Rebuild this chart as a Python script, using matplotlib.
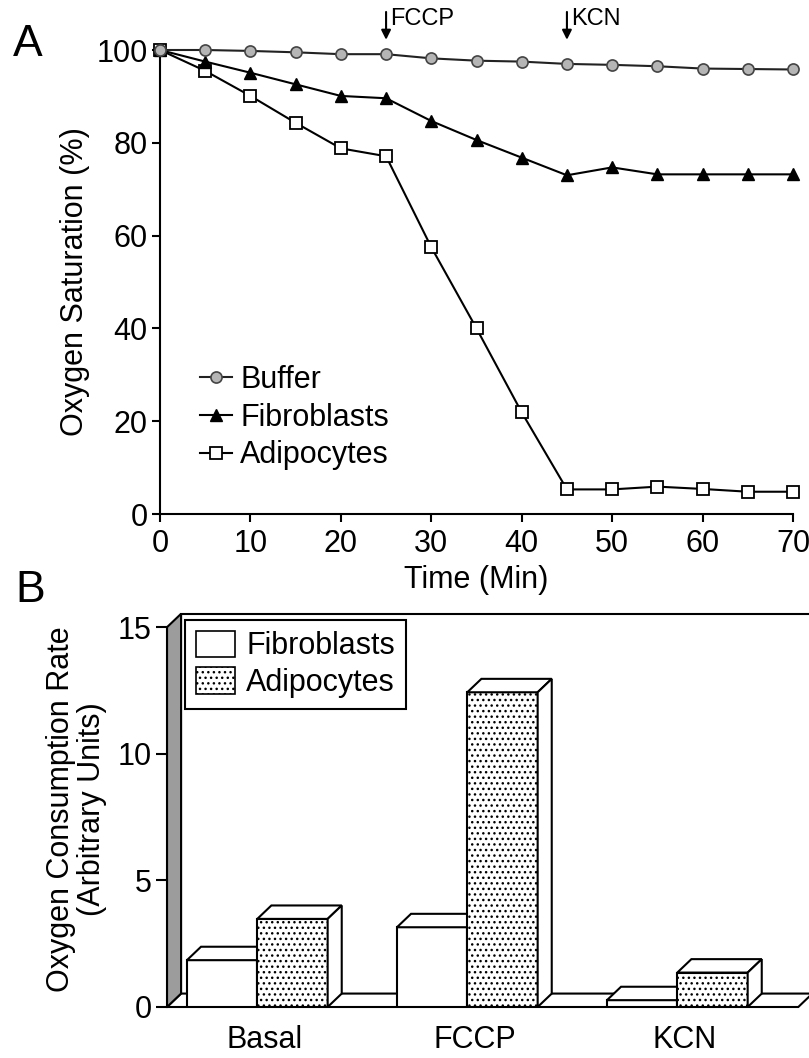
import matplotlib
matplotlib.use('Agg')
from matplotlib import pyplot as plt
from matplotlib.patches import Polygon, Patch

# ---- panel A data ----
time = [0, 5, 10, 15, 20, 25, 30, 35, 40, 45, 50, 55, 60, 65, 70]
buffer = [100, 100, 99.8, 99.5, 99.1, 99.1, 98.2, 97.7, 97.5, 97.0, 96.8, 96.5, 96.0, 95.9, 95.8]
fibroblasts = [100, 97.5, 95.1, 92.6, 90.1, 89.6, 84.7, 80.6, 76.8, 73.0, 74.7, 73.2, 73.2, 73.2, 73.2]
adipocytes = [100, 95.5, 90.1, 84.3, 78.8, 77.1, 57.5, 40.0, 21.9, 5.3, 5.3, 5.9, 5.4, 4.8, 4.8]
additions = [25, 45]
addition_labels = ['FCCP', 'KCN']

# ---- panel B data ----
conditions = ['Basal', 'FCCP', 'KCN']
rate_fibro = [1.85, 3.15, 0.27]
rate_adipo = [3.48, 12.43, 1.36]

plt.rcParams['font.family'] = ['Liberation Sans', 'DejaVu Sans']
plt.rcParams['font.size'] = 22
plt.rcParams['hatch.linewidth'] = 1.0

W, H = 809, 1058
fig = plt.figure(figsize=(W / 100, H / 100), dpi=100)


def box(l, t, r, b):
    # pixel box -> figure fraction
    return [l / W, 1 - b / H, (r - l) / W, (b - t) / H]


# ================= Panel A =================
ax = fig.add_axes(box(160, 50, 793, 514))
la, = ax.plot(time, adipocytes, '-s', color='black', lw=1.5, ms=8,
              mfc='white', mec='black', mew=1.3, clip_on=False, zorder=3)
lf, = ax.plot(time, fibroblasts, '-^', color='black', lw=1.5, ms=8,
              mfc='black', mec='black', clip_on=False, zorder=4)
lb, = ax.plot(time, buffer, '-o', color='#222222', lw=1.5, ms=8,
              mfc='#b5b5b5', mec='#444444', mew=1.2, clip_on=False, zorder=5)

ax.set_xlim(0, 70)
ax.set_ylim(0, 100)
ax.set_xticks(range(0, 71, 10))
ax.set_yticks(range(0, 101, 20))
for s in ['top', 'right']:
    ax.spines[s].set_visible(False)
for s in ['left', 'bottom']:
    ax.spines[s].set_linewidth(1.5)
ax.tick_params(direction='out', length=6, width=1.5, labelsize=22, pad=3)
ax.tick_params(axis='x', pad=5)
ax.set_xlabel('Time (Min)', fontsize=22, labelpad=4)
ax.set_ylabel('Oxygen Saturation (%)', fontsize=22)
ax.yaxis.set_label_coords(-0.111, 0.5)

leg = ax.legend([lb, lf, la], ['Buffer', 'Fibroblasts', 'Adipocytes'],
                loc='upper left', bbox_to_anchor=(200 / W, 1 - 365 / H),
                bbox_transform=fig.transFigure, frameon=False, fontsize=22,
                handlelength=1.05, handletextpad=0.26, labelspacing=0.25,
                borderpad=0, borderaxespad=0, numpoints=1)

for t, lab in zip(additions, addition_labels):
    ax.annotate('', xy=(t, 102.2), xytext=(t, 108.2),
                arrowprops=dict(arrowstyle='-|>', color='black', lw=1.5,
                                mutation_scale=14, shrinkA=0, shrinkB=0),
                annotation_clip=False)
    ax.text(t + 0.5, 106.6, lab, fontsize=17, ha='left', va='center', clip_on=False)

fig.text(28 / W, 1 - 44 / H, 'A', fontsize=32, ha='center', va='center')

# ================= Panel B =================
bx = fig.add_axes(box(167, 612, 809, 1007))
w = 0.335      # bar width (category units)
dx = 0.067     # depth offset, x
dy = 0.53      # depth offset, y (value units)
x0 = -0.43     # front-left corner of the side wall
xr = 2.576     # front-right corner of the floor
bx.set_xlim(x0, 2.627)
bx.set_ylim(0, 15.6)

# side wall, back wall, floor
bx.add_patch(Polygon([(x0, 0), (x0, 15), (x0 + dx, 15 + dy), (x0 + dx, dy)],
                     closed=True, fc='#9c9c9c', ec='black', lw=1.5, zorder=1))
bx.add_patch(Polygon([(x0 + dx, dy), (x0 + dx, 15 + dy), (xr + dx, 15 + dy), (xr + dx, dy)],
                     closed=True, fc='white', ec='black', lw=1.5, zorder=0.8, clip_on=False))
bx.add_patch(Polygon([(x0, 0), (xr, 0), (xr + dx, dy), (x0 + dx, dy)],
                     closed=True, fc='white', ec='black', lw=1.5, zorder=0.9, clip_on=False))

z = 2
for i in range(len(conditions)):
    for j, (vals, hatch) in enumerate([(rate_fibro, None), (rate_adipo, '...')]):
        left = i - w + j * w
        v = vals[i]
        bx.bar(left, v, width=w, align='edge', color='white', edgecolor='black',
               lw=1.5, hatch=hatch, zorder=z)
        bx.add_patch(Polygon([(left, v), (left + w, v), (left + w + dx, v + dy), (left + dx, v + dy)],
                             closed=True, fc='white', ec='black', lw=1.5, zorder=z))
        bx.add_patch(Polygon([(left + w, 0), (left + w + dx, dy), (left + w + dx, v + dy), (left + w, v)],
                             closed=True, fc='white', ec='black', lw=1.5, zorder=z))
        z += 1

for s in ['top', 'right', 'bottom']:
    bx.spines[s].set_visible(False)
bx.spines['left'].set_bounds(0, 15)
bx.spines['left'].set_linewidth(1.5)
bx.spines['left'].set_zorder(1.5)
bx.set_yticks([0, 5, 10, 15])
bx.tick_params(axis='y', direction='out', length=8, width=1.5, labelsize=22, pad=3)
bx.set_xticks([i + dx / 2 for i in range(len(conditions))])
bx.set_xticklabels(conditions)
bx.tick_params(axis='x', length=0, labelsize=22, pad=13)
bx.set_ylabel('Oxygen Consumption Rate\n(Arbitrary Units)', fontsize=22, linespacing=1.05)
bx.yaxis.set_label_coords(-0.0935, 0.5)

handles = [Patch(facecolor='white', edgecolor='black', lw=1.2),
           Patch(facecolor='white', edgecolor='black', lw=1.2, hatch='...')]
lg = bx.legend(handles, ['Fibroblasts', 'Adipocytes'], loc='upper left',
               bbox_to_anchor=(185 / W, 1 - 620 / H), bbox_transform=fig.transFigure,
               fancybox=False, framealpha=1, edgecolor='black', fontsize=22,
               handlelength=1.3, handleheight=0.95, labelspacing=0.2,
               handletextpad=0.35, borderpad=0.35, borderaxespad=0)
lg.get_frame().set_linewidth(1.5)
lg.set_zorder(20)

fig.text(30 / W, 1 - 591 / H, 'B', fontsize=32, ha='center', va='center')

fig.savefig('out.png', dpi=100)
